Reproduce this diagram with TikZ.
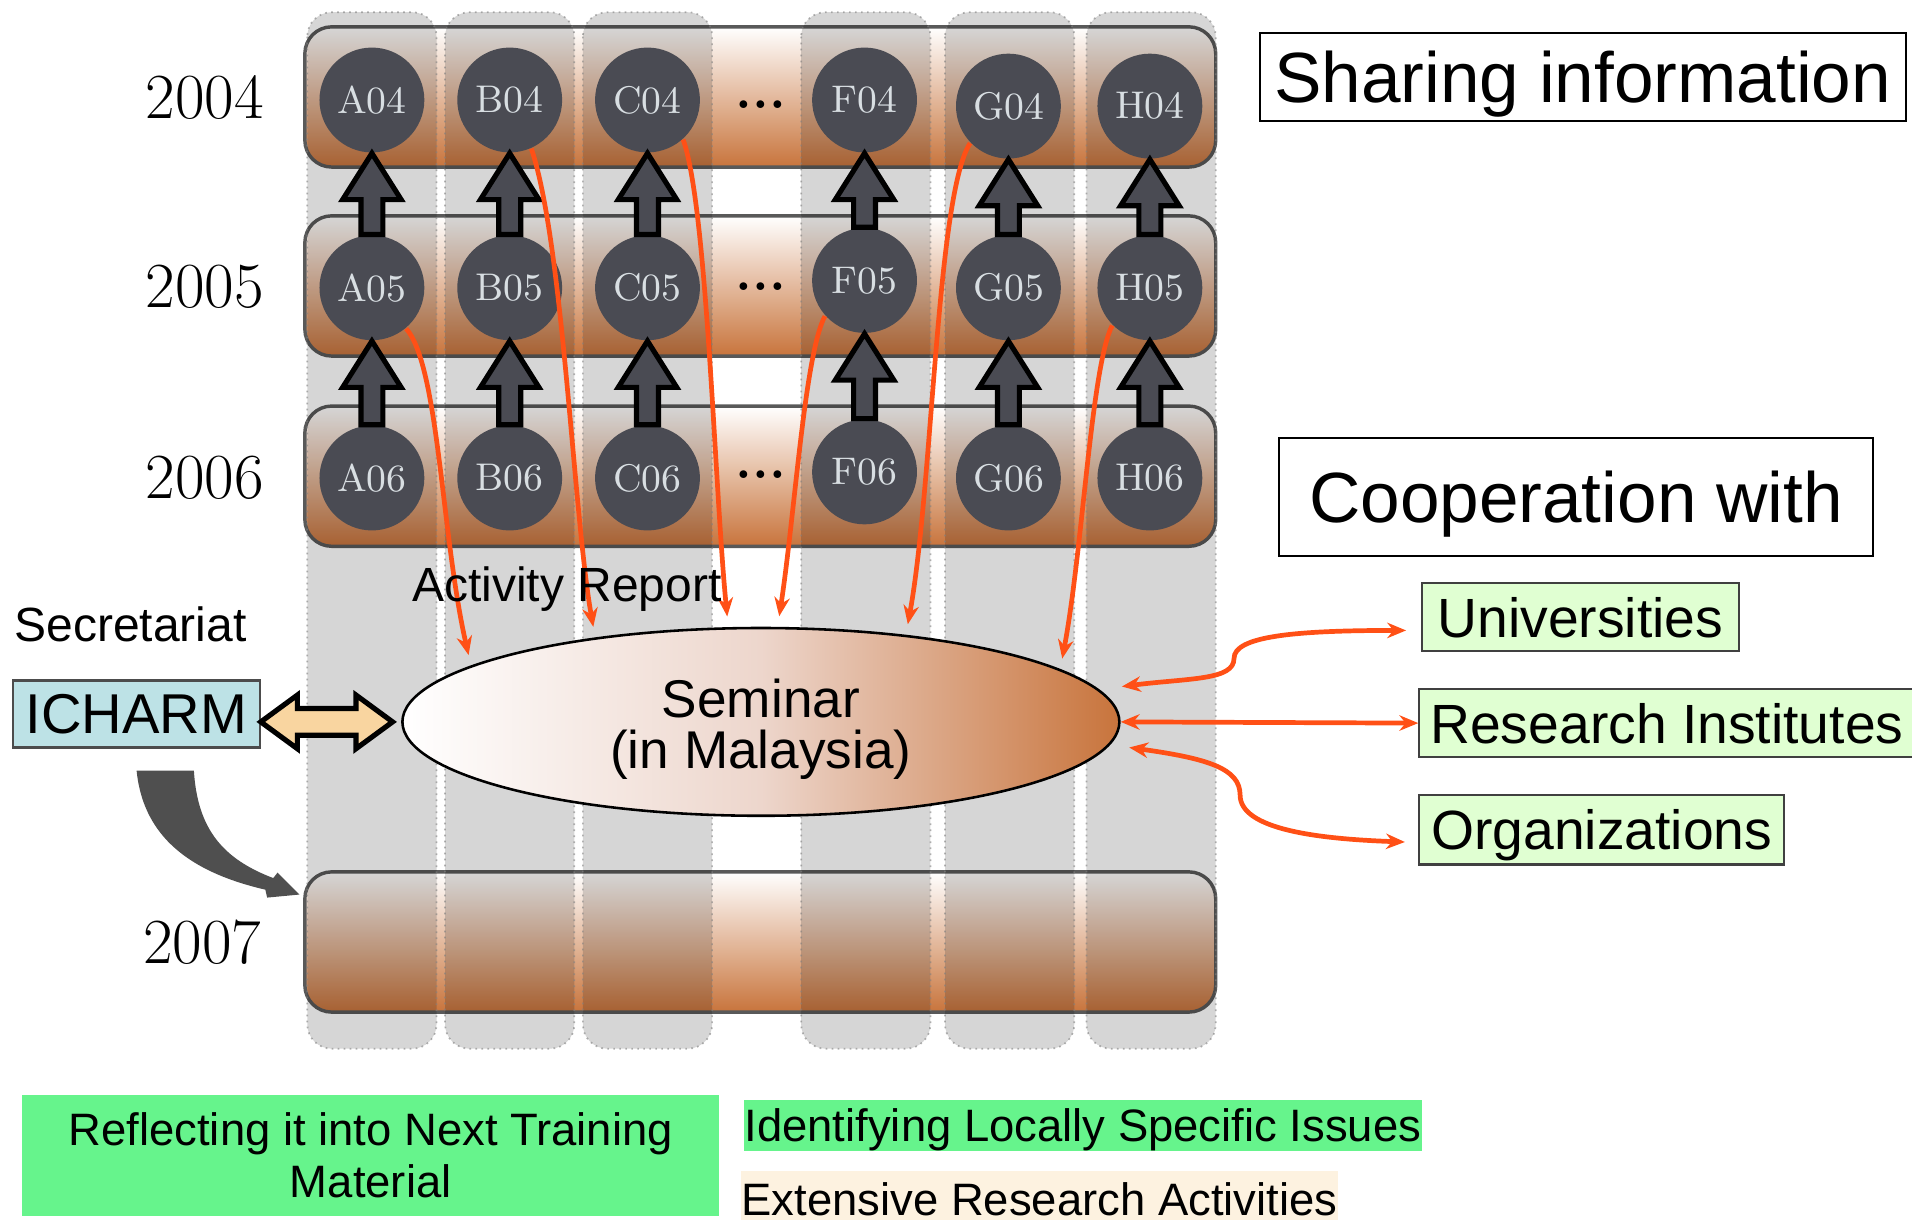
\documentclass[tikz,border=0pt]{standalone}
\usepackage{fontspec}
\usetikzlibrary{positioning,calc,arrows.meta,shapes.geometric}
\newfontfamily\arialfont{Liberation Sans}
\definecolor{rowbrown}{HTML}{C8743C}
\definecolor{rowmid}{HTML}{EBCDBF}
\definecolor{semmid}{HTML}{EDD6CC}
\definecolor{ballgray}{HTML}{4A4B53}
\definecolor{balltext}{HTML}{D8DEE2}
\definecolor{redor}{HTML}{FF5016}
\definecolor{boxgreen}{HTML}{E0FFD2}
\definecolor{boldgreen}{HTML}{66F48C}
\definecolor{cream}{HTML}{FDF2E0}
\definecolor{icblue}{HTML}{BDE2E6}
\definecolor{dblfill}{HTML}{F9D5A0}
\begin{document}
\begin{tikzpicture}[x=0.1mm,y=-0.1mm,
	yearrow/.style={draw=black!65,line width=0.8pt,rounded corners=2.2mm,top color=white,middle color=rowmid,bottom color=rowbrown,minimum width=74.7mm,minimum height=11.5mm,inner sep=0pt},
	colband/.style={fill=black,fill opacity=0.16,draw=black!50,draw opacity=0.6,line width=0.4pt,densely dotted,rounded corners=2mm},
	ball/.style={circle,fill=ballgray,text=balltext,minimum size=8.6mm,inner sep=0pt,font=\fontsize{9}{10}\selectfont},
	yearlbl/.style={font=\fontsize{15}{16}\selectfont},
	gapdots/.style={font=\fontsize{12.5}{12}\selectfont\bfseries},
	uparrow/.style={fill=ballgray,draw=black,line width=1.2pt,line join=miter},
	report/.style={redor,line width=1.1pt,>={Stealth[length=4.4pt,width=3.6pt]},->,shorten >=2.5pt},
	coop/.style={redor,line width=1.1pt,>={Stealth[length=4.4pt,width=3.6pt]},<->},
	partner/.style={draw=black!75,line width=0.5pt,fill=boxgreen,inner sep=0pt,text depth=0pt,font=\arialfont\fontsize{12.9}{14}\selectfont},
	titlebox/.style={draw=black,line width=0.5pt,inner sep=0pt,text depth=0pt,font=\arialfont\fontsize{16.6}{18}\selectfont},
	note/.style={inner sep=0pt,font=\arialfont\fontsize{10.6}{12.2}\selectfont,align=center}]
	\useasboundingbox (0,0) rectangle (1568,1000);
	\clip (0,0) rectangle (1568,1000);

	% Year rows
	\node[yearrow] (row2004) at (623.5,79.5) {};
	\node[yearrow] (row2005) at (623.5,234.5) {};
	\node[yearrow] (row2006) at (623.5,390.5) {};
	\node[yearrow] (row2007) at (623.5,772.5) {};

	% Member columns
	\foreach \x in {305,418,531,710,828,944}
	\draw[colband] (\x-53,10) rectangle (\x+53,860);

	% Year labels and gaps
	\node[yearlbl] (y2004) at (168,80) {2004};
	\node[yearlbl] (y2005) at (168,235) {2005};
	\node[yearlbl] (y2006) at (168,392) {2006};
	\node[yearlbl] (y2007) at (166,773) {2007};
	\node[gapdots] (gap04) at (624,86) {...};
	\node[gapdots] (gap05) at (624,235) {...};
	\node[gapdots] (gap06) at (624,389) {...};

	% Members per year
	\foreach \c/\x/\ya/\yb/\yc in {A/305/82/236/392,B/418/82/236/392,C/531/82/236/392,F/709/82/230/387,G/827/87/236/392,H/943/87/236/392}{
		\node[ball] (\c04) at (\x,\ya) {\c04};
		\node[ball] (\c05) at (\x,\yb) {\c05};
		\node[ball] (\c06) at (\x,\yc) {\c06};
	}
	\foreach \c in {A,B,C,F,G,H}{
		\draw[uparrow] ($(\c05.north)+(-9,0)$) -- ($(\c04.south)+(-9,38)$) -- ($(\c04.south)+(-24,38)$) -- (\c04.south) -- ($(\c04.south)+(24,38)$) -- ($(\c04.south)+(9,38)$) -- ($(\c05.north)+(9,0)$) -- cycle;
		\draw[uparrow] ($(\c06.north)+(-9,0)$) -- ($(\c05.south)+(-9,38)$) -- ($(\c05.south)+(-24,38)$) -- (\c05.south) -- ($(\c05.south)+(24,38)$) -- ($(\c05.south)+(9,38)$) -- ($(\c06.north)+(9,0)$) -- cycle;
	}

	% Seminar and secretariat
	\node[ellipse,draw=black,line width=0.6pt,left color=white,right color=rowbrown,middle color=semmid,minimum width=58.8mm,minimum height=15.4mm,inner sep=0pt] (seminar) at (624,592) {};
	\node[align=center,font=\arialfont\fontsize{12.4}{12}\selectfont] (semtxt) at ($(seminar.center)+(0,6)$) {Seminar\\(in Malaysia)};
	\node[font=\arialfont\fontsize{11.2}{13}\selectfont] (secr) at (107,512) {Secretariat};
	\node[draw=black!70,line width=0.5pt,fill=icblue,minimum width=20.2mm,minimum height=5.5mm,inner sep=0pt,font=\arialfont\fontsize{13.1}{14}\selectfont] (icharm) at (112,585.5) {ICHARM};

	% Activity reports
	\draw[report] (A05.-50) .. controls (360,300) and (362,440) .. (seminar.169);
	\draw[report] (B04.-66) .. controls (462,200) and (470,420) .. (seminar.153);
	\draw[report] (C04.-48) .. controls (580,170) and (586,400) .. (seminar.109);
	\draw[report] (F05.-138) .. controls (660,290) and (652,420) .. (seminar.80);
	\draw[report] (G04.-136) .. controls (768,160) and (765,400) .. (seminar.31);
	\draw[report] (H05.-135) .. controls (895,300) and (888,450) .. (seminar.10);
	\node[font=\arialfont\fontsize{11.2}{13}\selectfont] (actrep) at (465,483) {Activity Report};

	% Partners
	\node[titlebox,minimum width=53mm,minimum height=7.2mm] (sharing) at (1298,63) {Sharing information};
	\node[titlebox,minimum width=48.7mm,minimum height=9.7mm] (coopwith) at (1292.5,407.5) {Cooperation with};
	\node[partner,minimum width=26mm,minimum height=5.6mm] (univ) at (1296,506) {Universities};
	\node[partner,minimum width=40.6mm,minimum height=5.6mm] (research) at (1367,593) {Research Institutes};
	\node[partner,minimum width=29.9mm,minimum height=5.7mm] (orgs) at (1313.5,680.5) {Organizations};
	\draw[coop] ($(seminar.east)+(1,-29)$) .. controls (975,556) and (1012,558) .. (1012,540) .. controls (1012,522) and (1060,517) .. ($(univ.west)+(-12,11)$);
	\draw[coop] (seminar.east) -- (research.west);
	\draw[coop] ($(seminar.east)+(7,21)$) .. controls (990,622) and (1017,630) .. (1017,652) .. controls (1017,680) and (1080,688) .. ($(orgs.west)+(-11,10)$);

	% ICHARM links
	\coordinate (dl) at (icharm.east |- seminar.west);
	\coordinate (dr) at ($(seminar.west)+(-7,0)$);
	\draw[fill=dblfill,draw=black,line width=1.2pt,line join=miter] (dl) -- ($(dl)+(30,-22)$) -- ($(dl)+(30,-11)$) -- ($(dr)+(-30,-11)$) -- ($(dr)+(-30,-22)$) -- (dr) -- ($(dr)+(-30,22)$) -- ($(dr)+(-30,11)$) -- ($(dl)+(30,11)$) -- ($(dl)+(30,22)$) -- cycle;
	\coordinate (gs) at ($(icharm.south)+(0,18)$);
	\coordinate (gt) at ($(row2007.north west)+(-3,20)$);
	\fill[black!69] (gs) .. controls ($(gs)+(5,49)$) and ($(gt)+(-97,-20)$) .. ($(gt)+(-28,-4)$) -- ($(gt)+(-26.5,2.5)$) -- (gt) -- ($(gt)+(-18,-18)$) -- ($(gt)+(-21.5,-13.5)$) .. controls ($(gt)+(-62,-29)$) and ($(gs)+(50,49)$) .. ($(gs)+(47,0)$) -- cycle;

	% Outcomes
	\node[note,fill=boldgreen,minimum width=57.2mm,minimum height=9.9mm] (reflect) at (304,947.5) {Reflecting it into Next Training\\Material};
	\node[note,fill=boldgreen,text depth=0pt,minimum width=55.6mm,minimum height=4.2mm] (identify) at (888,923) {Identifying Locally Specific Issues};
	\node[note,fill=cream,text depth=0pt,minimum width=48.9mm,minimum height=4.6mm,anchor=north] (extensive) at (852.5,960) {Extensive Research Activities};
\end{tikzpicture}
\end{document}
